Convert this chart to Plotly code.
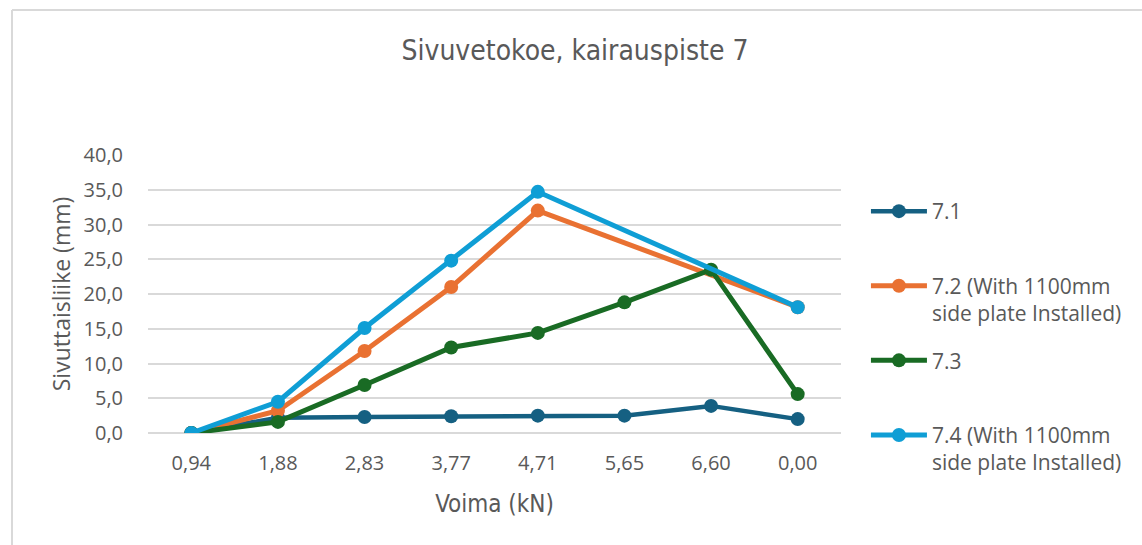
import plotly.graph_objects as go

categories = ["0,94", "1,88", "2,83", "3,77", "4,71", "5,65", "6,60", "0,00"]
s71 = [0.0, 2.2, 2.3, 2.4, 2.5, 2.5, 3.9, 2.0]
s72 = [0.0, 3.2, 11.8, 21.0, 32.0, None, None, 18.1]
s73 = [0.0, 1.6, 6.9, 12.3, 14.4, 18.8, 23.5, 5.6]
s74 = [0.0, 4.5, 15.1, 24.8, 34.7, None, None, 18.1]

names = ["7.1<br>&nbsp;", "7.2 (With 1100mm<br>side plate Installed)", "7.3<br>&nbsp;",
         "7.4 (With 1100mm<br>side plate Installed)"]
colors = ["#156082", "#E97132", "#196B24", "#0F9ED5"]
widths = [4.5, 5, 5, 5]

fig = go.Figure()
for i, (vals, nm, c, w) in enumerate(zip([s71, s72, s73, s74], names, colors, widths)):
    fig.add_trace(go.Scatter(
        x=categories, y=vals, name=nm, mode="lines+markers",
        line=dict(color=c, width=w), marker=dict(color=c, size=14),
        connectgaps=True, legendgroup=f"g{i}"))

TXT = "#595959"
NARROW = "Liberation Sans Narrow, DejaVu Sans Condensed, Roboto"
fig.update_layout(
    width=1142, height=545,
    margin=dict(l=148, r=301, t=155, b=112, autoexpand=False),
    paper_bgcolor="white", plot_bgcolor="white",
    separators=", ",
    font=dict(family="Open Sans, Noto Sans, sans-serif", color=TXT, size=18),
    title=dict(text="Sivuvetokoe, kairauspiste 7", x=575 / 1142, xanchor="center",
               y=1 - 50 / 545, yanchor="middle",
               font=dict(family=NARROW, size=28, color=TXT)),
    xaxis=dict(type="category", range=[-0.5, 7.5], showgrid=False, showline=False,
               ticks="", ticklabelstandoff=16, tickfont=dict(size=20, color=TXT),
               title=dict(text="Voima (kN)", standoff=20,
                          font=dict(family=NARROW, size=24, color=TXT))),
    yaxis=dict(range=[0, 40], dtick=5, tickformat=".1f", showgrid=True, gridcolor="#d9d9d9",
               gridwidth=1.5, zeroline=True, zerolinecolor="#d9d9d9", zerolinewidth=1.5,
               showline=False, ticks="", ticklabelstandoff=24, tickfont=dict(size=20, color=TXT),
               title=dict(text="Sivuttaisliike (mm)", standoff=6, font=dict(size=23, color=TXT))),
    legend=dict(x=1.036, xanchor="left", y=(433 - 191) / 278, yanchor="top", maxheight=400,
                traceorder="grouped", tracegroupgap=17, valign="top", itemwidth=56,
                font=dict(size=21, color=TXT), bgcolor="rgba(0,0,0,0)"),
    showlegend=True,
)
# chart border
fig.add_shape(type="line", xref="paper", yref="paper", x0=(12 - 148) / 693, x1=(1150 - 148) / 693,
              y0=(433 - 10) / 278, y1=(433 - 10) / 278, line=dict(color="#d9d9d9", width=2))
fig.add_shape(type="line", xref="paper", yref="paper", x0=(12 - 148) / 693, x1=(12 - 148) / 693,
              y0=(433 - 10) / 278, y1=(433 - 560) / 278, line=dict(color="#d9d9d9", width=2))

fig.write_html("out.html", config={"displayModeBar": False},
               post_script="document.body.style.margin='0';")
